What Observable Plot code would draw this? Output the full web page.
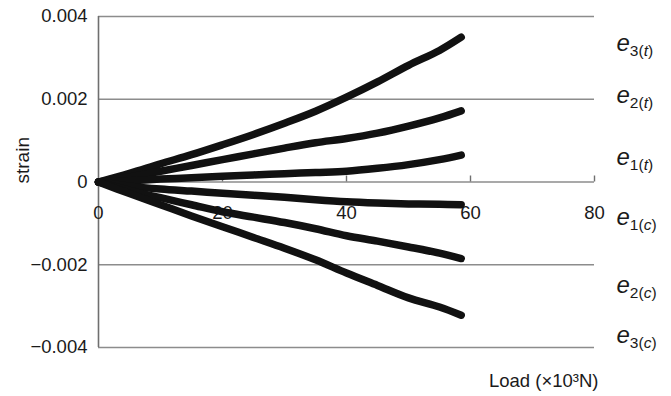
<!DOCTYPE html>
<html>
<head>
<meta charset="utf-8">
<script src="https://cdn.jsdelivr.net/npm/d3@7"></script>
<script src="https://cdn.jsdelivr.net/npm/@observablehq/plot@0.6"></script>
<style>
  html, body { margin: 0; padding: 0; background: #fff; }
</style>
</head>
<body>
<div id="chart"></div>
<script>
// Load (x10^3 N)
const load = [0, 5, 10, 15, 20, 25, 30, 35, 40, 45, 50, 55, 58.5];
// Strain series
const e3t = [0, 0.00021, 0.00044, 0.00066, 0.00090, 0.00115, 0.00142, 0.00171, 0.00205, 0.00242, 0.00282, 0.00318, 0.00350];
const e2t = [0, 0.00012, 0.00026, 0.00040, 0.00054, 0.00068, 0.00082, 0.00095, 0.00105, 0.00118, 0.00135, 0.00155, 0.00172];
const e1t = [0, 0.00003, 0.00007, 0.00010, 0.00014, 0.00017, 0.00020, 0.00023, 0.00026, 0.00033, 0.00042, 0.00054, 0.00065];
const e1c = [0, -0.00010, -0.00017, -0.00022, -0.00027, -0.00032, -0.00037, -0.00043, -0.00048, -0.00051, -0.00053, -0.00054, -0.00055];
const e2c = [0, -0.00020, -0.00038, -0.00055, -0.00072, -0.00085, -0.00098, -0.00113, -0.00130, -0.00143, -0.00157, -0.00172, -0.00185];
const e3c = [0, -0.00028, -0.00055, -0.00082, -0.00108, -0.00134, -0.00160, -0.00188, -0.00220, -0.00250, -0.00280, -0.00302, -0.00322];

const seriesIds = ["3|t", "2|t", "1|t", "1|c", "2|c", "3|c"];
const seriesValues = [e3t, e2t, e1t, e1c, e2c, e3c];
const labelStrain = [0.00335, 0.00209, 0.00060, -0.00086, -0.00250, -0.00371];

const xTicks = [0, 20, 40, 60, 80];
const xTickLabels = ["0", "20", "40", "60", "80"];
const yTicks = [-0.004, -0.002, 0, 0.002, 0.004];
const yTickLabels = ["\u22120.004", "\u22120.002", "0", "0.002", "0.004"];
const gridValues = [-0.004, -0.002, 0.002, 0.004];
const yTitle = "strain";
const xTitle = "Load (\u00d710\u00b3N)";

const rows = seriesIds.flatMap((id, s) => load.map((x, i) => ({id, x, y: seriesValues[s][i]})));
const labels = seriesIds.map((id, i) => ({id, y: labelStrain[i]}));

const FONT = "'Liberation Sans', Arial, Helvetica, sans-serif";

const svg = Plot.plot({
  width: 671,
  height: 396,
  marginLeft: 98,
  marginRight: 77,
  marginTop: 16,
  marginBottom: 49,
  style: {fontFamily: FONT, fontSize: "17px", color: "#1a1a1a", background: "#fff"},
  x: {domain: [0, 80], axis: null},
  y: {domain: [-0.004, 0.004], axis: null},
  marks: [
    Plot.ruleY(gridValues, {y: d => d, stroke: "#8c8c8c", strokeWidth: 1.6}),
    Plot.ruleY([0], {y: d => d, stroke: "#8c8c8c", strokeWidth: 1.6}),
    Plot.ruleX([0], {x: d => d, stroke: "#6f6f6f", strokeWidth: 1.6}),
    Plot.ruleX(xTicks.slice(1), {x: d => d, y1: 0, y2: 0, insetTop: -6, stroke: "#6f6f6f", strokeWidth: 1.4}),
    Plot.text(yTicks, {y: d => d, text: d => yTickLabels[yTicks.indexOf(d)], frameAnchor: "left", textAnchor: "end", dx: -11, fontSize: 18.5, fill: "#1a1a1a"}),
    Plot.text([yTitle], {text: d => d, frameAnchor: "left", rotate: -90, dx: -76, dy: 1.5, fontSize: 19, fill: "#1a1a1a"}),
    Plot.text(xTicks, {x: d => d, y: () => 0, text: (d, i) => xTickLabels[i], dy: 31, fontSize: 18.5, fill: "#1a1a1a"}),
    Plot.text([xTitle], {frameAnchor: "bottom-right", text: d => d, dy: 39, dx: 4, textAnchor: "end", fontSize: 18.5, fill: "#1a1a1a"}),
    Plot.line(rows, {x: "x", y: "y", z: "id", stroke: "#111", strokeWidth: 7.5, curve: "catmull-rom", strokeLinecap: "round", strokeLinejoin: "round"}),
    Plot.text(labels, {y: "y", text: "id", frameAnchor: "right", textAnchor: "start", dx: 22, fontSize: 24, fill: "#1a1a1a"})
  ]
});

d3.select(svg).selectAll("text").filter(function() { return this.textContent.includes("|"); }).each(function() {
  const id = this.textContent;
  const [n, s] = id.split("|");
  const t = d3.select(this);
  t.text(null);
  t.append("tspan").attr("font-style", "italic").attr("font-size", 24).text("e");
  const sub = t.append("tspan").attr("font-size", 15.5).attr("dy", 5);
  sub.append("tspan").text(n + "(");
  sub.append("tspan").attr("font-style", "italic").text(s);
  sub.append("tspan").text(")");
});

document.getElementById("chart").appendChild(svg);
</script>
</body>
</html>
